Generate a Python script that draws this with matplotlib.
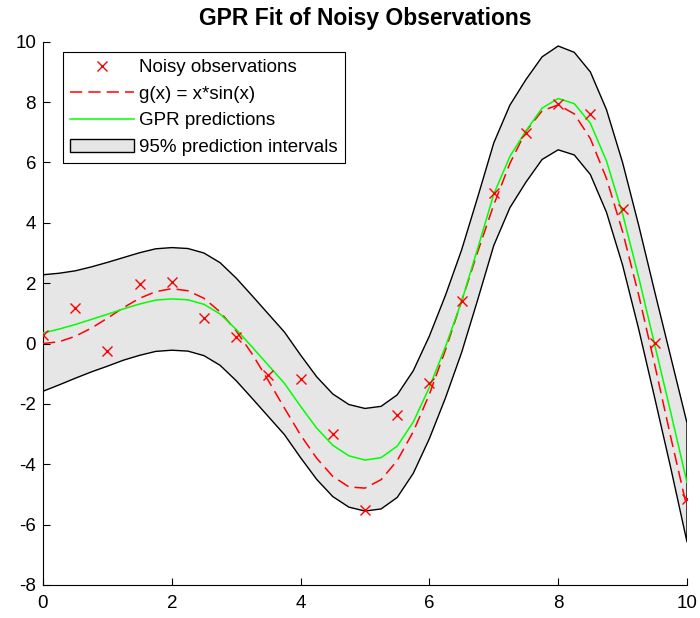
import numpy as np
import matplotlib
matplotlib.use("Agg")
import matplotlib.pyplot as plt
from matplotlib.patches import Patch

plt.rcParams['font.family'] = ['Liberation Sans', 'DejaVu Sans']
plt.rcParams['axes.unicode_minus'] = False

# Noisy observations
x_obs = [0, 0.5, 1, 1.5, 2, 2.5, 3, 3.5, 4, 4.5, 5,
         5.5, 6, 6.5, 7, 7.5, 8, 8.5, 9, 9.5, 10]
y_obs = [0.29, 1.17, -0.25, 1.97, 2.03, 0.85, 0.22, -1.04, -1.18, -2.99, -5.51,
         -2.37, -1.30, 1.40, 5.00, 6.98, 7.94, 7.61, 4.46, 0.03, -5.15]

# Curves sampled every 0.25
x_grid = [0, 0.25, 0.5, 0.75, 1, 1.25, 1.5, 1.75, 2, 2.25, 2.5, 2.75, 3, 3.25,
          3.5, 3.75, 4, 4.25, 4.5, 4.75, 5, 5.25, 5.5, 5.75, 6, 6.25, 6.5,
          6.75, 7, 7.25, 7.5, 7.75, 8, 8.25, 8.5, 8.75, 9, 9.25, 9.5, 9.75, 10]

# g(x) = x*sin(x), dashed red
g_true = [0.00, 0.06, 0.24, 0.51, 0.84, 1.19, 1.50, 1.72, 1.82, 1.75, 1.50,
          1.05, 0.42, -0.35, -1.23, -2.14, -3.03, -3.80, -4.40, -4.75, -4.79,
          -4.51, -3.88, -2.92, -1.68, -0.21, 1.40, 3.04, 4.60, 5.97, 7.04,
          7.71, 7.91, 7.61, 6.79, 5.47, 3.71, 1.61, -0.71, -3.12, -5.44]

# GPR predictions, green
y_pred = [0.35, 0.48, 0.63, 0.80, 0.97, 1.15, 1.31, 1.44, 1.48, 1.45, 1.30,
          0.98, 0.47, -0.12, -0.72, -1.32, -2.08, -2.80, -3.37, -3.72, -3.86,
          -3.78, -3.40, -2.60, -1.45, -0.10, 1.40, 3.15, 4.95, 6.20, 7.05,
          7.80, 8.12, 7.95, 7.30, 6.05, 4.30, 2.20, -0.05, -2.30, -4.60]

# 95% prediction interval bounds
y_upper = [2.28, 2.33, 2.41, 2.54, 2.69, 2.85, 3.01, 3.14, 3.18, 3.15, 3.00,
           2.68, 2.17, 1.58, 0.98, 0.38, -0.38, -1.10, -1.67, -2.02, -2.15,
           -2.08, -1.70, -0.90, 0.25, 1.60, 3.10, 4.85, 6.65, 7.90, 8.75,
           9.50, 9.86, 9.65, 9.00, 7.75, 6.00, 3.92, 1.71, -0.46, -2.63]
y_lower = [-1.58, -1.37, -1.15, -0.94, -0.75, -0.55, -0.39, -0.26, -0.22, -0.25, -0.40,
           -0.72, -1.23, -1.82, -2.42, -3.02, -3.78, -4.50, -5.07, -5.42, -5.55,
           -5.48, -5.10, -4.30, -3.15, -1.80, -0.30, 1.45, 3.25, 4.50, 5.35,
           6.10, 6.42, 6.25, 5.60, 4.35, 2.60, 0.48, -1.81, -4.14, -6.57]

fig = plt.figure(figsize=(7, 6.18), dpi=100)
ax = fig.add_axes([0.0614, 0.0534, 0.92, 0.879])

# interval patch: upper curve, then lower curve back
px = np.concatenate([x_grid, x_grid[::-1]])
py = np.concatenate([y_upper, y_lower[::-1]])
ax.fill(px, py, facecolor=(0.9, 0.9, 0.9), edgecolor='k', linewidth=1.0,
        joinstyle='round', zorder=1)

ax.plot(x_obs, y_obs, 'x', color='r', markersize=7, markeredgewidth=1.0, zorder=4)
ax.plot(x_grid, g_true, '--', color='r', linewidth=1.1, dashes=(8, 4), zorder=3)
ax.plot(x_grid, y_pred, '-', color=(0, 1, 0), linewidth=1.1, zorder=3)

ax.set_xlim(0, 10)
ax.set_ylim(-8, 10)
ax.set_xticks(range(0, 11, 2))
ax.set_yticks(range(-8, 11, 2))
ax.spines['top'].set_visible(False)
ax.spines['right'].set_visible(False)
ax.tick_params(direction='in', length=5, labelsize=13.5, width=0.8)
ax.tick_params(axis='x', pad=7)
ax.tick_params(axis='y', pad=5)

# title placed by hand, centred over the axes
fig.text(0.5214, 1 - 19 / 618, "GPR Fit of Noisy Observations", fontsize=16.5,
         fontweight='bold', ha='center', va='center')

handles = [
    plt.Line2D([], [], linestyle='none', marker='x', color='r', markersize=7),
    plt.Line2D([], [], linestyle='--', color='r', dashes=(8, 4), linewidth=1.1),
    plt.Line2D([], [], linestyle='-', color=(0, 1, 0), linewidth=1.1),
    Patch(facecolor=(0.9, 0.9, 0.9), edgecolor='k'),
]
labels = ["Noisy observations", "g(x) = x*sin(x)", "GPR predictions",
          "95% prediction intervals"]
leg = ax.legend(handles, labels, loc='upper left', bbox_to_anchor=(0.031, 0.982),
                fontsize=13.5, frameon=True, fancybox=False, framealpha=1,
                edgecolor='k', handlelength=3.4, handleheight=0.7,
                handletextpad=0.25, borderpad=0.4, labelspacing=0.5,
                borderaxespad=0)
leg.get_frame().set_linewidth(0.8)

plt.savefig("out.png", dpi=100)
plt.close()
